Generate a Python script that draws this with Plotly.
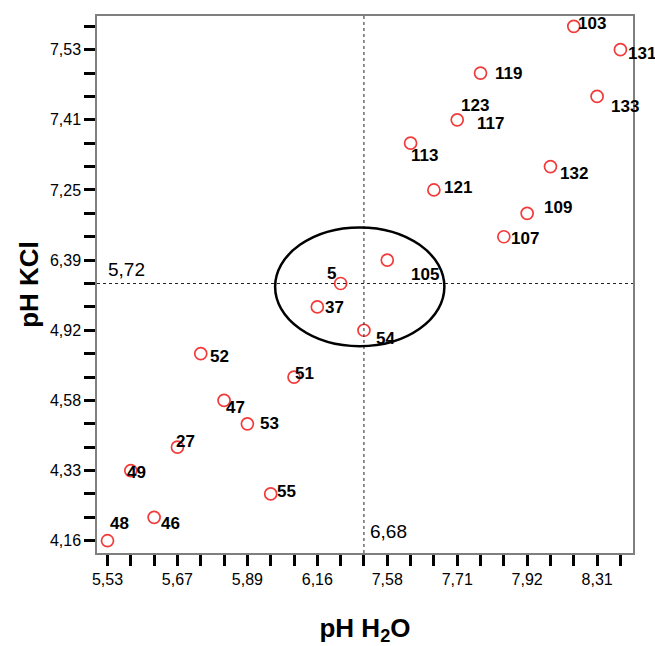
import plotly.graph_objects as go

# Sample numbers and their rank positions on each axis (pH H2O rank, pH KCl rank)
samples = ["48", "49", "46", "27", "52", "47", "53", "55", "51", "37", "5", "54",
           "105", "113", "121", "117", "119", "107", "109", "132", "103", "133", "131"]
h2o_rank = [1, 2, 3, 4, 5, 6, 7, 8, 9, 10, 11, 12,
            13, 14, 15, 16, 17, 18, 19, 20, 21, 22, 23]
kcl_rank = [1, 4, 2, 5, 9, 7, 6, 3, 8, 11, 12, 10,
            13, 18, 16, 19, 21, 14, 15, 17, 23, 20, 22]

# Sample 123 shares the point of sample 117
extra_labels = {"123": "117"}

# Tick labels shown every third rank
h2o_tick_ranks = [1, 4, 7, 10, 13, 16, 19, 22]
h2o_tick_text = ["5,53", "5,67", "5,89", "6,16", "7,58", "7,71", "7,92", "8,31"]
kcl_tick_ranks = [1, 4, 7, 10, 13, 16, 19, 22]
kcl_tick_text = ["4,16", "4,33", "4,58", "4,92", "6,39", "7,25", "7,41", "7,53"]

# Median reference lines
h2o_median_rank, h2o_median_text = 12, "6,68"
kcl_median_rank, kcl_median_text = 12, "5,72"

# Label offsets in pixels (dx to label's left edge, dy downward)
label_offset = {
    "103": (2, -3), "131": (6, 4), "119": (12, 0), "123": (2, -14), "117": (18, 4),
    "133": (12, 10), "113": (-2, 12), "132": (8, 7), "121": (8, -2), "109": (15, -6),
    "107": (5, 2), "105": (22, 14), "5": (-16, -10), "37": (6, 1), "54": (10, 8),
    "52": (7, 3), "51": (-1, -4), "47": (0, 7), "53": (11, 0), "27": (-3, -6),
    "49": (-6, 2), "55": (4, -2), "46": (5, 6), "48": (1, -17),
}

# Cluster ellipse around the medians (centre and radii in rank units)
ell_cx, ell_cy, ell_rx, ell_ry = 11.82, 11.86, 3.63, 2.54

FONT = "Liberation Sans, Arial, sans-serif"

fig = go.Figure()
fig.add_trace(go.Scatter(
    x=h2o_rank, y=kcl_rank, mode="markers",
    marker=dict(symbol="circle-open", size=12, color="#f23a3a", line=dict(width=1.7)),
    hoverinfo="text", text=samples, showlegend=False,
))

pos = {s: (xr, yr) for s, xr, yr in zip(samples, h2o_rank, kcl_rank)}
all_labels = list(samples) + list(extra_labels.keys())
for lab in all_labels:
    xr, yr = pos[extra_labels.get(lab, lab)]
    dx, dy = label_offset[lab]
    fig.add_annotation(
        x=xr, y=yr, text="<b>" + lab + "</b>", showarrow=False, xanchor="left",
        yanchor="middle", xshift=dx, yshift=-dy,
        font=dict(family=FONT, size=17, color="black"),
    )

# Median lines
fig.add_shape(type="line", xref="x", yref="paper", x0=h2o_median_rank, x1=h2o_median_rank,
              y0=0, y1=1, line=dict(color="#222", width=1, dash="dot"))
fig.add_shape(type="line", xref="paper", yref="y", x0=0, x1=1,
              y0=kcl_median_rank, y1=kcl_median_rank, line=dict(color="#222", width=1, dash="dot"))
fig.add_annotation(x=h2o_median_rank, y=0, yref="paper", text=h2o_median_text, showarrow=False,
                   xanchor="left", yanchor="bottom", xshift=4, yshift=9,
                   font=dict(family=FONT, size=19, color="black"))
fig.add_annotation(x=0, xref="paper", y=kcl_median_rank, text=kcl_median_text, showarrow=False,
                   xanchor="left", yanchor="bottom", xshift=9, yshift=2,
                   font=dict(family=FONT, size=19, color="black"))

# Ellipse
fig.add_shape(type="circle", xref="x", yref="y",
              x0=ell_cx - ell_rx, x1=ell_cx + ell_rx, y0=ell_cy - ell_ry, y1=ell_cy + ell_ry,
              line=dict(color="black", width=2.5))

axis_common = dict(
    showgrid=False, zeroline=False, showline=True, linecolor="#7f7f7f", linewidth=1.5,
    mirror=True, ticks="outside", ticklen=11, tickwidth=3, tickcolor="black",
    tickfont=dict(family=FONT, size=16, color="black"), automargin=False,
)

fig.update_xaxes(
    range=[0.55, 23.54], tickmode="array", tickvals=h2o_tick_ranks, ticktext=h2o_tick_text,
    minor=dict(tickmode="array", tickvals=h2o_rank, ticks="outside", ticklen=11,
               tickwidth=3, tickcolor="black"),
    title=dict(text="<b>pH H<sub>2</sub>O</b>", font=dict(family=FONT, size=26, color="black"),
               standoff=37),
    **axis_common,
)
fig.update_yaxes(
    range=[0.475, 23.44], tickmode="array", tickvals=kcl_tick_ranks, ticktext=kcl_tick_text,
    minor=dict(tickmode="array", tickvals=sorted(kcl_rank), ticks="outside", ticklen=11,
               tickwidth=3, tickcolor="black"),
    title=dict(text="<b>pH KCl</b>", font=dict(family=FONT, size=26, color="black"),
               standoff=4),
    **axis_common,
)

fig.update_layout(
    width=655, height=646, autosize=False,
    margin=dict(l=97, r=22, t=16, b=93),
    paper_bgcolor="white", plot_bgcolor="white",
)

fig.write_html("out.html")
